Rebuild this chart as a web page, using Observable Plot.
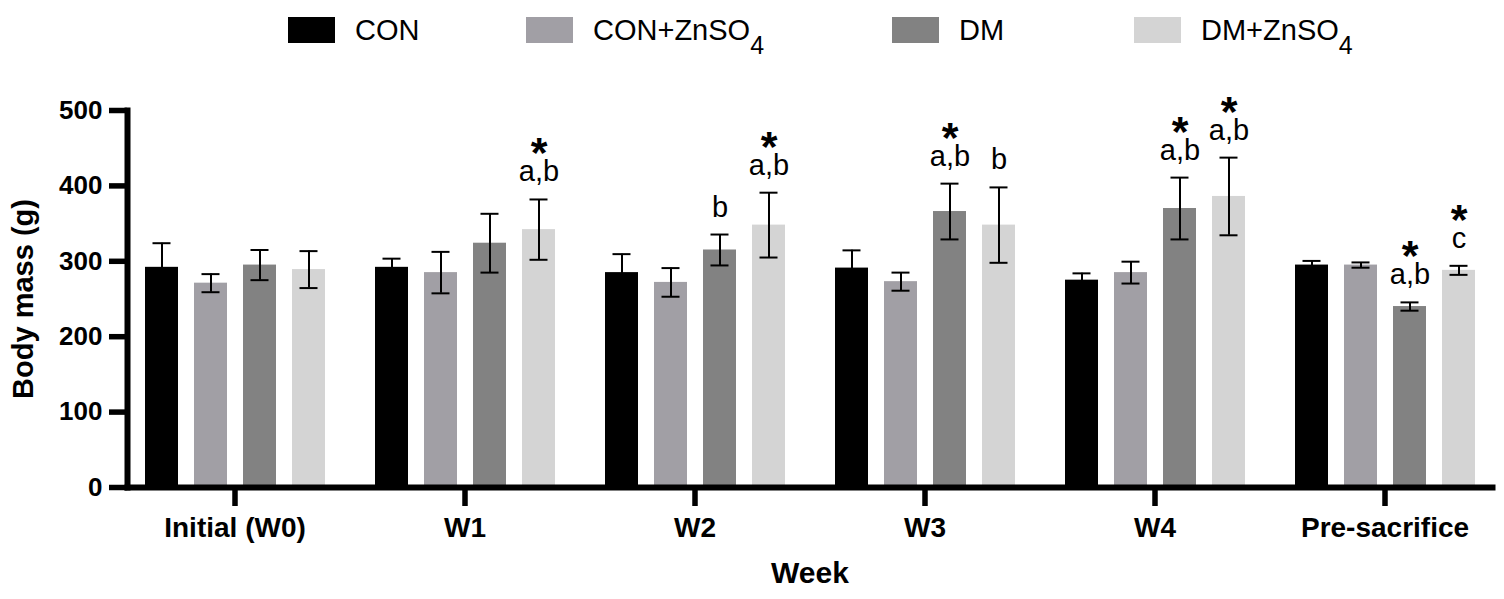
<!DOCTYPE html>
<html>
<head>
<meta charset="utf-8">
<script src="https://cdn.jsdelivr.net/npm/d3@7"></script>
<script src="https://cdn.jsdelivr.net/npm/@observablehq/plot@0.6"></script>
<style>
  html, body { margin: 0; padding: 0; background: #fff; }
  body { width: 1504px; height: 599px; overflow: hidden; font-family: "Liberation Sans", Arial, Helvetica, sans-serif; color: #000; }
  #legend { position: relative; width: 1504px; height: 70px; }
  #legend .sw { position: absolute; top: 17px; width: 47px; height: 26px; }
  #legend .lt { position: absolute; top: 16px; font-size: 29px; line-height: 1; white-space: nowrap; }
  #legend .lt sub { font-size: 25px; vertical-align: -14px; line-height: 0; }
  #chart svg { display: block; }
  #chart g[aria-label="y-axis label"] text { font-size: 29px; }
  #chart g[aria-label="fx-axis label"] text { font-size: 30px; }
</style>
</head>
<body>
<div id="legend"></div>
<div id="chart"></div>
<script>
// ---- data ----
const weeks = ["Initial (W0)", "W1", "W2", "W3", "W4", "Pre-sacrifice"];
const groups = ["CON", "CON+ZnSO4", "DM", "DM+ZnSO4"];
const colors = ["#000000", "#a19fa5", "#828282", "#d4d4d4"];

const meanCON     = [292, 292, 285, 291, 275, 295];
const meanCONZn   = [271, 285, 272, 273, 285, 295];
const meanDM      = [295, 324, 315, 366, 370, 240];
const meanDMZn    = [289, 342, 348, 348, 386, 288];

const sdCON       = [32, 11.5, 24.5, 23.5, 9, 5.5];
const sdCONZn     = [12, 27.5, 19, 12, 14.5, 3.5];
const sdDM        = [20, 39, 20.5, 37, 41, 5.5];
const sdDMZn      = [24.5, 40, 43, 50, 51.5, 6];

const lettersCON   = ["", "", "", "", "", ""];
const lettersCONZn = ["", "", "", "", "", ""];
const lettersDM    = ["", "", "b", "a,b", "a,b", "a,b"];
const lettersDMZn  = ["", "a,b", "a,b", "b", "a,b", "c"];

const starCON   = [false, false, false, false, false, false];
const starCONZn = [false, false, false, false, false, false];
const starDM    = [false, false, false, true, true, true];
const starDMZn  = [false, true, true, false, true, true];

const yTicks = [0, 100, 200, 300, 400, 500];

const means = [meanCON, meanCONZn, meanDM, meanDMZn];
const sds = [sdCON, sdCONZn, sdDM, sdDMZn];
const letters = [lettersCON, lettersCONZn, lettersDM, lettersDMZn];
const stars = [starCON, starCONZn, starDM, starDMZn];

const rows = [];
weeks.forEach((w, i) => groups.forEach((g, j) => rows.push({
  week: w, group: g, mean: means[j][i], sd: sds[j][i], letter: letters[j][i], star: stars[j][i]
})));

// ---- legend (HTML above the SVG) ----
const legendLeft = [288, 526, 892, 1134];
const legendDiv = d3.select("#legend");
groups.forEach((g, j) => {
  legendDiv.append("div").attr("class", "sw").style("left", legendLeft[j] + "px").style("background", colors[j]);
  legendDiv.append("div").attr("class", "lt").style("left", (legendLeft[j] + 67) + "px")
    .html(g.replace(/SO4$/, "SO<sub>4</sub>"));
});

// ---- chart ----
const errTop = d => d.mean + d.sd;
const errBottom = d => d.mean - d.sd;
const chart = Plot.plot({
  width: 1504,
  height: 529,
  marginTop: 40,
  marginBottom: 112,
  marginLeft: 125,
  marginRight: 10.6,
  style: { fontFamily: "'Liberation Sans', Arial, Helvetica, sans-serif", fontWeight: "bold", color: "#000", background: "#fff", overflow: "visible" },
  fx: { domain: weeks, paddingInner: 0.066, paddingOuter: 0, label: null },
  x: { domain: groups, paddingInner: 0.333, paddingOuter: 0.342, axis: null },
  y: { domain: [0, 500] },
  color: { domain: groups, range: colors },
  marks: [
    Plot.barY(rows, { fx: "week", x: "group", y: "mean", fill: "group" }),
    Plot.ruleX(rows, { fx: "week", x: "group", y1: errBottom, y2: errTop, stroke: "#000", strokeWidth: 2 }),
    Plot.tickY(rows, { fx: "week", x: "group", y: errTop, insetLeft: 7.5, insetRight: 7.5, stroke: "#000", strokeWidth: 2 }),
    Plot.tickY(rows, { fx: "week", x: "group", y: errBottom, insetLeft: 7.5, insetRight: 7.5, stroke: "#000", strokeWidth: 2 }),
    Plot.text(rows.filter(d => d.letter), { fx: "week", x: "group", y: errTop, text: "letter", dy: -18, lineAnchor: "bottom", fontSize: 29, fontWeight: "normal", fill: "#000" }),
    Plot.text(rows.filter(d => d.star), { fx: "week", x: "group", y: errTop, text: () => "*", dy: -32, lineAnchor: "bottom", fontSize: 43, fontWeight: "bold", fill: "#000" }),
    Plot.axisY({ ticks: yTicks, tickSize: 18, tickPadding: 7, strokeWidth: 5.5, fontSize: 26, label: "Body mass (g)", labelAnchor: "center", labelArrow: "none", labelOffset: 115 }),
    Plot.axisFx({ anchor: "bottom", tickSize: 19, tickPadding: 11, strokeWidth: 5.5, fontSize: 28, label: "Week", labelAnchor: "center", labelArrow: "none", labelOffset: 95 }),
    Plot.frame({ anchor: "left", facet: "super", stroke: "#000", strokeWidth: 6 }),
    Plot.frame({ anchor: "bottom", facet: "super", stroke: "#000", strokeWidth: 6 })
  ]
});
document.getElementById("chart").appendChild(chart);
</script>
</body>
</html>
